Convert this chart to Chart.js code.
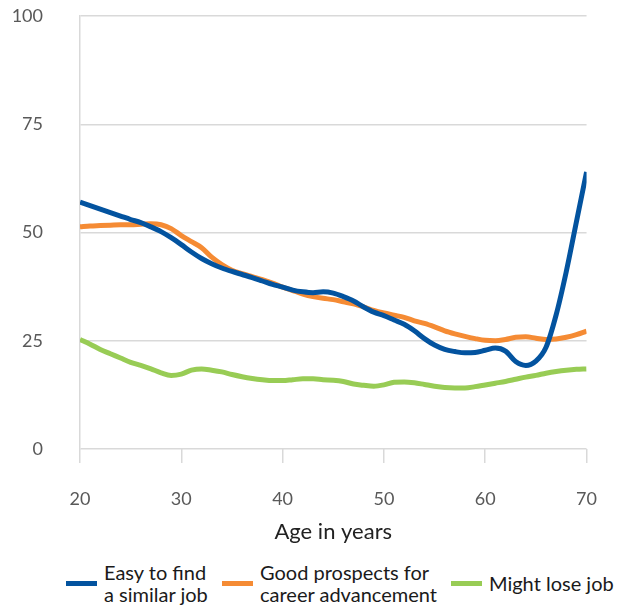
<!DOCTYPE html>
<html>
<head>
<meta charset="utf-8">
<script src="https://cdn.jsdelivr.net/npm/chart.js@4"></script>
<style>
  body { margin: 0; background: #fff; font-family: Lato, "Noto Sans", sans-serif; }
  #wrap { position: relative; width: 622px; height: 605px; }
  #box { position: absolute; left: 0; top: 0; width: 622px; height: 545px; }
  .item { position: absolute; display: flex; align-items: center; color: #1a1a1a; font-size: 20px; line-height: 22px; }
  .swatch { width: 31px; height: 5px; margin-right: 7px; }
</style>
</head>
<body>
<div id="wrap">
  <div id="box"><canvas id="ageChart"></canvas></div>
  <div id="legend"></div>
</div>
<script>
// Ages (x values) shared by every series
const ages = [20,21,22,23,24,25,26,27,28,29,30,31,32,33,34,35,36,37,38,39,40,
              41,42,43,44,45,46,47,48,49,50,51,52,53,54,55,56,57,58,59,60,
              61,62,63,64,65,66,67,68,69,70];

// Easy to find a similar job
const easyToFind = [57.0,56.2,55.4,54.6,53.8,53.0,52.3,51.3,50.2,48.8,47.2,
                    45.5,44.0,42.8,41.8,41.0,40.3,39.6,38.8,38.0,37.4,
                    36.7,36.3,36.1,36.3,36.0,35.2,34.2,32.8,31.6,30.8,
                    29.8,28.8,27.3,25.5,24.0,23.0,22.5,22.2,22.3,22.8,
                    23.3,22.6,20.2,19.3,20.3,23.5,31.0,41.0,52.5,64.0];

// Good prospects for career advancement
const goodProspects = [51.3,51.5,51.6,51.7,51.8,51.8,51.9,52.0,51.8,50.9,49.3,
                       47.9,46.5,44.3,42.6,41.3,40.5,39.8,39.1,38.3,37.4,
                       36.6,35.8,35.2,34.8,34.5,34.0,33.5,32.8,32.0,31.4,
                       30.9,30.4,29.6,29.0,28.2,27.3,26.6,26.0,25.5,25.1,
                       25.0,25.3,25.8,25.9,25.6,25.3,25.4,25.8,26.4,27.2];

// Might lose job
const mightLose = [25.3,24.2,23.0,22.0,21.0,20.0,19.3,18.5,17.6,17.0,17.3,
                   18.2,18.5,18.2,17.8,17.2,16.7,16.3,16.0,15.8,15.8,
                   16.0,16.2,16.2,16.0,15.9,15.6,15.0,14.7,14.5,14.8,
                   15.4,15.5,15.3,14.9,14.5,14.2,14.1,14.1,14.4,14.8,
                   15.2,15.6,16.1,16.6,17.0,17.5,17.9,18.2,18.4,18.5];

const seriesNames = [['Easy to find', 'a similar job'],
                     ['Good prospects for', 'career advancement'],
                     ['Might lose job']];
const seriesColors = ['#03539f', '#f58b34', '#98cc55'];
const yTicks = [0, 25, 50, 75, 100];
const xTicks = [20, 30, 40, 50, 60, 70];

function toPoints(values) {
    return values.map((v, i) => ({ x: ages[i], y: v }));
}

const allSeries = [easyToFind, goodProspects, mightLose];
const datasets = allSeries.map((values, i) => ({
    label: seriesNames[i].join(' '),
    data: toPoints(values),
    borderColor: seriesColors[i],
    borderWidth: 5,
    pointRadius: 0,
    cubicInterpolationMode: 'monotone',
    fill: false
}));

const gridColor = '#d9d9d9';

new Chart(document.getElementById('ageChart'), {
    type: 'line',
    data: { datasets: datasets },
    options: {
        responsive: true,
        maintainAspectRatio: false,
        animation: false,
        layout: { padding: { top: 16, right: 35, left: 0, bottom: 0 } },
        plugins: { legend: { display: false }, tooltip: { enabled: false } },
        scales: {
            x: {
                type: 'linear',
                min: xTicks[0],
                max: xTicks[xTicks.length - 1],
                afterBuildTicks: axis => { axis.ticks = xTicks.map(v => ({ value: v })); },
                afterFit: axis => { axis.height = 96; },
                grid: { drawOnChartArea: false, drawTicks: true, tickLength: 14, color: gridColor, lineWidth: 1.5 },
                border: { display: false },
                ticks: { padding: 25, color: '#595959', font: { family: 'Lato', size: 18 } },
                title: {
                    display: true,
                    text: 'Age in years',
                    color: '#222',
                    font: { family: 'Lato', size: 22 },
                    padding: { top: 4, bottom: 0 }
                }
            },
            y: {
                min: yTicks[0],
                max: yTicks[yTicks.length - 1],
                afterBuildTicks: axis => { axis.ticks = yTicks.map(v => ({ value: v })); },
                afterFit: axis => {
                    axis.width = 80;
                    // the label gap should not push the plot down
                    axis.paddingTop = 11;
                    axis.paddingBottom = 11;
                },
                grid: { drawTicks: false, color: gridColor, lineWidth: 1.5 },
                border: { display: true, color: gridColor, width: 1.5 },
                ticks: { padding: 37, color: '#595959', font: { family: 'Lato', size: 18 } }
            }
        }
    }
});

// HTML legend (labels wrap onto two lines)
const legendSpots = [{ left: 66, top: 561 }, { left: 222, top: 561 }, { left: 451, top: 572 }];
const legend = document.getElementById('legend');
seriesNames.forEach((lines, i) => {
    const item = document.createElement('div');
    item.className = 'item';
    item.style.left = legendSpots[i].left + 'px';
    item.style.top = legendSpots[i].top + 'px';
    const sw = document.createElement('div');
    sw.className = 'swatch';
    sw.style.background = seriesColors[i];
    const txt = document.createElement('div');
    txt.innerHTML = lines.join('<br>');
    item.appendChild(sw);
    item.appendChild(txt);
    legend.appendChild(item);
});
</script>
</body>
</html>
